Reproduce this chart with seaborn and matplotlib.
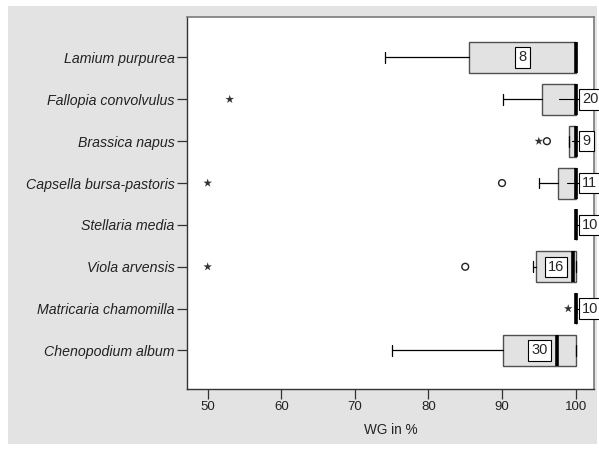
import matplotlib
matplotlib.use("Agg")
import matplotlib.pyplot as plt
import matplotlib.patches as mpatches
import seaborn as sns
import pandas as pd

# Species (top to bottom) and their box statistics in WG %
species = [
    "Lamium purpurea",
    "Fallopia convolvulus",
    "Brassica napus",
    "Capsella bursa-pastoris",
    "Stellaria media",
    "Viola arvensis",
    "Matricaria chamomilla",
    "Chenopodium album",
]
whisker_low = [74.1, 90.1, 99.1, 95.0, 100.0, 94.2, 100.0, 75.0]
q1 = [85.5, 95.5, 99.1, 97.55, 100.0, 94.65, 100.0, 90.1]
median = [100.0, 100.0, 100.0, 100.0, 100.0, 99.7, 100.0, 97.5]
q3 = [100.0, 100.0, 100.0, 100.0, 100.0, 100.0, 100.0, 100.0]
whisker_high = [100.0, 100.0, 100.0, 100.0, 100.0, 100.0, 100.0, 100.0]
n_obs = [8, 20, 9, 11, 10, 16, 10, 30]

# Outliers: species, value, kind (mild = circle, extreme = star)
outlier_species = ["Fallopia convolvulus", "Brassica napus", "Brassica napus",
                   "Capsella bursa-pastoris", "Capsella bursa-pastoris",
                   "Viola arvensis", "Viola arvensis", "Matricaria chamomilla"]
outlier_value = [53.0, 95.0, 96.1, 90.0, 50.0, 85.0, 50.0, 99.0]
outlier_kind = ["extreme", "extreme", "mild", "mild", "extreme", "mild", "extreme", "extreme"]

xticks = [50, 60, 70, 80, 90, 100]

sns.set_theme(style="white")
plt.rcParams["font.family"] = ["Liberation Sans", "DejaVu Sans"]

W, H = 599, 449
fig = plt.figure(figsize=(W / 100, H / 100), dpi=100, facecolor="white")
# grey panel behind the chart
fig.patches.append(mpatches.Rectangle((8 / W, 1 - 444 / H), (597 - 8) / W, (444 - 6) / H,
                                      transform=fig.transFigure, facecolor="#e3e3e3",
                                      edgecolor="none", zorder=-5))

ax = fig.add_axes([187 / W, 1 - 389 / H, (594 - 187) / W, (389 - 17) / H])
ax.set_zorder(3)
ax.set_facecolor("white")

pos = list(range(len(species)))
stats = []
for i, name in enumerate(species):
    stats.append(dict(label=name, whislo=whisker_low[i], q1=q1[i], med=median[i],
                      q3=q3[i], whishi=whisker_high[i], fliers=[]))

ax.bxp(stats, positions=pos, vert=False, widths=0.74, capwidths=0.26,
       showfliers=False, patch_artist=True,
       boxprops=dict(facecolor="#e2e2e2", edgecolor="#505050", linewidth=1.0),
       medianprops=dict(color="black", linewidth=2.6, solid_capstyle="butt"),
       whiskerprops=dict(color="black", linewidth=0.9),
       capprops=dict(color="black", linewidth=0.9))

out = pd.DataFrame({"species": outlier_species, "value": outlier_value, "kind": outlier_kind})
out["pos"] = out["species"].map({s: i for i, s in enumerate(species)})
sns.scatterplot(data=out[out.kind == "mild"], x="value", y="pos", marker="o", s=24,
                facecolor="none", edgecolor="#222222", linewidth=1.0, ax=ax, legend=False,
                zorder=5)
sns.scatterplot(data=out[out.kind == "extreme"], x="value", y="pos", marker="*", s=42,
                color="#333333", edgecolor="none", ax=ax, legend=False, zorder=5)

# case-count labels: inside wide boxes, to the right with a leader otherwise
for i in pos:
    centre = (q1[i] + q3[i]) / 2
    bbox = dict(boxstyle="square,pad=0.22", facecolor="white", edgecolor="black", linewidth=0.8)
    if q3[i] - q1[i] >= 5:
        ax.text(centre, i, str(n_obs[i]), ha="center", va="center", fontsize=10.5,
                bbox=bbox, zorder=6)
    else:
        ax.plot([centre, 100.9], [i, i], color="black", linewidth=0.8, zorder=4)
        ax.text(100.9, i, str(n_obs[i]), ha="left", va="center", fontsize=10.5,
                bbox=bbox, zorder=6, clip_on=False)

ax.set_xlim(47.19, 102.5)
ax.set_ylim(7.92, -0.967)
ax.set_xticks(xticks)
ax.set_xticklabels([str(t) for t in xticks], fontsize=9.5, color="#222222")
ax.set_yticks(pos)
ax.set_yticklabels(species, fontsize=10.2, fontstyle="italic", color="#222222")
ax.tick_params(axis="both", which="major", length=7, width=0.9, color="#333333",
               left=True, bottom=True, pad=2)
ax.set_xlabel("WG in %", fontsize=9.8, color="#222222", labelpad=7)
ax.set_ylabel("")

for side in ("left", "bottom"):
    ax.spines[side].set_color("#333333")
    ax.spines[side].set_linewidth(1.0)
for side in ("top", "right"):
    ax.spines[side].set_color("#7a7a7a")
    ax.spines[side].set_linewidth(1.2)

fig.savefig("out.png", dpi=100, facecolor="white")
